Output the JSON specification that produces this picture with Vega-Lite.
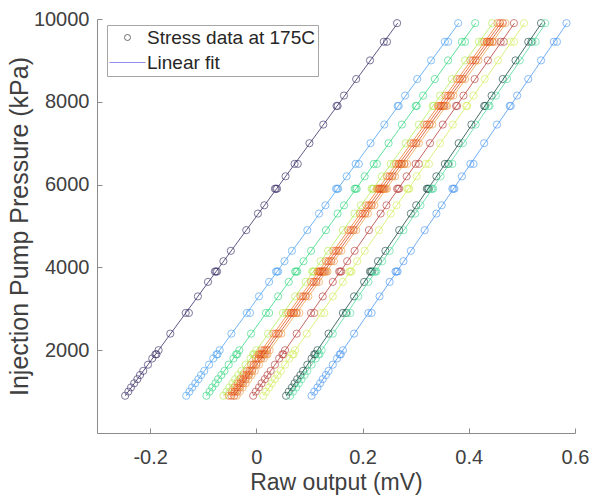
{
"$schema": "https://vega.github.io/schema/vega-lite/v6.json",
"width": 478, "height": 414,
"autosize": {"type": "none"},
"padding": {"left": 97, "top": 19, "right": 14, "bottom": 67},
"background": "white",
"config": {"view": {"stroke": null}, "font": "Liberation Sans"},
"data": {"values": [
{"s":"a","p":900,"v":-0.247},{"s":"a","p":1000,"v":-0.241},{"s":"a","p":1100,"v":-0.236},{"s":"a","p":1200,"v":-0.230},{"s":"a","p":1300,"v":-0.224},{"s":"a","p":1400,"v":-0.219},{"s":"a","p":1500,"v":-0.213},{"s":"a","p":1650,"v":-0.204},{"s":"a","p":1800,"v":-0.196},{"s":"a","p":1900,"v":-0.190},{"s":"a","p":2000,"v":-0.184},{"s":"a","p":2400,"v":-0.162},{"s":"a","p":2900,"v":-0.133},{"s":"a","p":3300,"v":-0.110},{"s":"a","p":3650,"v":-0.091},{"s":"a","p":3900,"v":-0.076},{"s":"a","p":4150,"v":-0.062},{"s":"a","p":4400,"v":-0.048},{"s":"a","p":4900,"v":-0.019},{"s":"a","p":5300,"v":0.003},{"s":"a","p":5500,"v":0.015},{"s":"a","p":5900,"v":0.037},{"s":"a","p":6200,"v":0.055},{"s":"a","p":6500,"v":0.072},{"s":"a","p":7000,"v":0.100},{"s":"a","p":7450,"v":0.126},{"s":"a","p":7900,"v":0.151},{"s":"a","p":8150,"v":0.165},{"s":"a","p":8550,"v":0.188},{"s":"a","p":9000,"v":0.214},{"s":"a","p":9450,"v":0.240},{"s":"a","p":9900,"v":0.265},
{"s":"a","p":1900,"v":-0.188},{"s":"a","p":2900,"v":-0.127},{"s":"a","p":3900,"v":-0.074},{"s":"a","p":3900,"v":-0.078},{"s":"a","p":5900,"v":0.039},{"s":"a","p":5900,"v":0.035},{"s":"a","p":6500,"v":0.078},{"s":"a","p":7900,"v":0.153},{"s":"a","p":9450,"v":0.246},
{"s":"b","p":900,"v":-0.132},{"s":"b","p":1000,"v":-0.126},{"s":"b","p":1100,"v":-0.121},{"s":"b","p":1200,"v":-0.115},{"s":"b","p":1300,"v":-0.109},{"s":"b","p":1400,"v":-0.104},{"s":"b","p":1500,"v":-0.098},{"s":"b","p":1650,"v":-0.089},{"s":"b","p":1800,"v":-0.081},{"s":"b","p":1900,"v":-0.075},{"s":"b","p":2000,"v":-0.069},{"s":"b","p":2400,"v":-0.047},{"s":"b","p":2900,"v":-0.018},{"s":"b","p":3300,"v":0.005},{"s":"b","p":3650,"v":0.024},{"s":"b","p":3900,"v":0.039},{"s":"b","p":4150,"v":0.053},{"s":"b","p":4400,"v":0.067},{"s":"b","p":4900,"v":0.096},{"s":"b","p":5300,"v":0.118},{"s":"b","p":5500,"v":0.130},{"s":"b","p":5900,"v":0.152},{"s":"b","p":6200,"v":0.170},{"s":"b","p":6500,"v":0.187},{"s":"b","p":7000,"v":0.215},{"s":"b","p":7450,"v":0.241},{"s":"b","p":7900,"v":0.266},{"s":"b","p":8150,"v":0.280},{"s":"b","p":8550,"v":0.303},{"s":"b","p":9000,"v":0.329},{"s":"b","p":9450,"v":0.355},{"s":"b","p":9900,"v":0.380},
{"s":"b","p":1900,"v":-0.073},{"s":"b","p":2900,"v":-0.012},{"s":"b","p":3900,"v":0.041},{"s":"b","p":3900,"v":0.037},{"s":"b","p":5900,"v":0.154},{"s":"b","p":5900,"v":0.150},{"s":"b","p":6500,"v":0.193},{"s":"b","p":7900,"v":0.268},{"s":"b","p":9450,"v":0.361},
{"s":"c","p":900,"v":-0.094},{"s":"c","p":1000,"v":-0.088},{"s":"c","p":1100,"v":-0.083},{"s":"c","p":1200,"v":-0.077},{"s":"c","p":1300,"v":-0.072},{"s":"c","p":1400,"v":-0.066},{"s":"c","p":1500,"v":-0.060},{"s":"c","p":1650,"v":-0.052},{"s":"c","p":1800,"v":-0.043},{"s":"c","p":1900,"v":-0.038},{"s":"c","p":2000,"v":-0.032},{"s":"c","p":2400,"v":-0.010},{"s":"c","p":2900,"v":0.018},{"s":"c","p":3300,"v":0.041},{"s":"c","p":3650,"v":0.061},{"s":"c","p":3900,"v":0.075},{"s":"c","p":4150,"v":0.089},{"s":"c","p":4400,"v":0.103},{"s":"c","p":4900,"v":0.131},{"s":"c","p":5300,"v":0.153},{"s":"c","p":5500,"v":0.165},{"s":"c","p":5900,"v":0.187},{"s":"c","p":6200,"v":0.204},{"s":"c","p":6500,"v":0.221},{"s":"c","p":7000,"v":0.249},{"s":"c","p":7450,"v":0.274},{"s":"c","p":7900,"v":0.300},{"s":"c","p":8150,"v":0.314},{"s":"c","p":8550,"v":0.336},{"s":"c","p":9000,"v":0.361},{"s":"c","p":9450,"v":0.387},{"s":"c","p":9900,"v":0.412},
{"s":"c","p":1900,"v":-0.036},{"s":"c","p":2900,"v":0.024},{"s":"c","p":3900,"v":0.077},{"s":"c","p":3900,"v":0.073},{"s":"c","p":5900,"v":0.189},{"s":"c","p":5900,"v":0.185},{"s":"c","p":6500,"v":0.227},{"s":"c","p":7900,"v":0.302},{"s":"c","p":9450,"v":0.393},
{"s":"d","p":900,"v":-0.062},{"s":"d","p":1000,"v":-0.056},{"s":"d","p":1100,"v":-0.051},{"s":"d","p":1200,"v":-0.045},{"s":"d","p":1300,"v":-0.040},{"s":"d","p":1400,"v":-0.034},{"s":"d","p":1500,"v":-0.028},{"s":"d","p":1650,"v":-0.020},{"s":"d","p":1800,"v":-0.011},{"s":"d","p":1900,"v":-0.006},{"s":"d","p":2000,"v":0.000},{"s":"d","p":2400,"v":0.022},{"s":"d","p":2900,"v":0.050},{"s":"d","p":3300,"v":0.073},{"s":"d","p":3650,"v":0.093},{"s":"d","p":3900,"v":0.107},{"s":"d","p":4150,"v":0.121},{"s":"d","p":4400,"v":0.135},{"s":"d","p":4900,"v":0.163},{"s":"d","p":5300,"v":0.185},{"s":"d","p":5500,"v":0.197},{"s":"d","p":5900,"v":0.219},{"s":"d","p":6200,"v":0.236},{"s":"d","p":6500,"v":0.253},{"s":"d","p":7000,"v":0.281},{"s":"d","p":7450,"v":0.306},{"s":"d","p":7900,"v":0.332},{"s":"d","p":8150,"v":0.346},{"s":"d","p":8550,"v":0.368},{"s":"d","p":9000,"v":0.393},{"s":"d","p":9450,"v":0.419},{"s":"d","p":9900,"v":0.444},
{"s":"d","p":1900,"v":-0.004},{"s":"d","p":2900,"v":0.056},{"s":"d","p":3900,"v":0.109},{"s":"d","p":3900,"v":0.105},{"s":"d","p":5900,"v":0.221},{"s":"d","p":5900,"v":0.217},{"s":"d","p":6500,"v":0.259},{"s":"d","p":7900,"v":0.334},{"s":"d","p":9450,"v":0.425},
{"s":"e","p":900,"v":-0.052},{"s":"e","p":1000,"v":-0.046},{"s":"e","p":1100,"v":-0.041},{"s":"e","p":1200,"v":-0.035},{"s":"e","p":1300,"v":-0.030},{"s":"e","p":1400,"v":-0.024},{"s":"e","p":1500,"v":-0.018},{"s":"e","p":1650,"v":-0.010},{"s":"e","p":1800,"v":-0.001},{"s":"e","p":1900,"v":0.004},{"s":"e","p":2000,"v":0.010},{"s":"e","p":2400,"v":0.032},{"s":"e","p":2900,"v":0.060},{"s":"e","p":3300,"v":0.083},{"s":"e","p":3650,"v":0.103},{"s":"e","p":3900,"v":0.117},{"s":"e","p":4150,"v":0.131},{"s":"e","p":4400,"v":0.145},{"s":"e","p":4900,"v":0.173},{"s":"e","p":5300,"v":0.195},{"s":"e","p":5500,"v":0.207},{"s":"e","p":5900,"v":0.229},{"s":"e","p":6200,"v":0.246},{"s":"e","p":6500,"v":0.263},{"s":"e","p":7000,"v":0.291},{"s":"e","p":7450,"v":0.316},{"s":"e","p":7900,"v":0.342},{"s":"e","p":8150,"v":0.356},{"s":"e","p":8550,"v":0.378},{"s":"e","p":9000,"v":0.403},{"s":"e","p":9450,"v":0.429},{"s":"e","p":9900,"v":0.454},
{"s":"e","p":1900,"v":0.006},{"s":"e","p":2900,"v":0.066},{"s":"e","p":3900,"v":0.119},{"s":"e","p":3900,"v":0.115},{"s":"e","p":5900,"v":0.231},{"s":"e","p":5900,"v":0.227},{"s":"e","p":6500,"v":0.269},{"s":"e","p":7900,"v":0.344},{"s":"e","p":9450,"v":0.435},
{"s":"f","p":900,"v":-0.047},{"s":"f","p":1000,"v":-0.041},{"s":"f","p":1100,"v":-0.036},{"s":"f","p":1200,"v":-0.030},{"s":"f","p":1300,"v":-0.025},{"s":"f","p":1400,"v":-0.019},{"s":"f","p":1500,"v":-0.013},{"s":"f","p":1650,"v":-0.005},{"s":"f","p":1800,"v":0.004},{"s":"f","p":1900,"v":0.009},{"s":"f","p":2000,"v":0.015},{"s":"f","p":2400,"v":0.037},{"s":"f","p":2900,"v":0.065},{"s":"f","p":3300,"v":0.088},{"s":"f","p":3650,"v":0.108},{"s":"f","p":3900,"v":0.122},{"s":"f","p":4150,"v":0.136},{"s":"f","p":4400,"v":0.150},{"s":"f","p":4900,"v":0.178},{"s":"f","p":5300,"v":0.200},{"s":"f","p":5500,"v":0.212},{"s":"f","p":5900,"v":0.234},{"s":"f","p":6200,"v":0.251},{"s":"f","p":6500,"v":0.268},{"s":"f","p":7000,"v":0.296},{"s":"f","p":7450,"v":0.321},{"s":"f","p":7900,"v":0.347},{"s":"f","p":8150,"v":0.361},{"s":"f","p":8550,"v":0.383},{"s":"f","p":9000,"v":0.408},{"s":"f","p":9450,"v":0.434},{"s":"f","p":9900,"v":0.459},
{"s":"f","p":1900,"v":0.011},{"s":"f","p":2900,"v":0.071},{"s":"f","p":3900,"v":0.124},{"s":"f","p":3900,"v":0.120},{"s":"f","p":5900,"v":0.236},{"s":"f","p":5900,"v":0.232},{"s":"f","p":6500,"v":0.274},{"s":"f","p":7900,"v":0.349},{"s":"f","p":9450,"v":0.440},
{"s":"g","p":900,"v":-0.042},{"s":"g","p":1000,"v":-0.036},{"s":"g","p":1100,"v":-0.031},{"s":"g","p":1200,"v":-0.025},{"s":"g","p":1300,"v":-0.020},{"s":"g","p":1400,"v":-0.014},{"s":"g","p":1500,"v":-0.008},{"s":"g","p":1650,"v":0.000},{"s":"g","p":1800,"v":0.009},{"s":"g","p":1900,"v":0.014},{"s":"g","p":2000,"v":0.020},{"s":"g","p":2400,"v":0.042},{"s":"g","p":2900,"v":0.070},{"s":"g","p":3300,"v":0.093},{"s":"g","p":3650,"v":0.113},{"s":"g","p":3900,"v":0.127},{"s":"g","p":4150,"v":0.141},{"s":"g","p":4400,"v":0.155},{"s":"g","p":4900,"v":0.183},{"s":"g","p":5300,"v":0.205},{"s":"g","p":5500,"v":0.217},{"s":"g","p":5900,"v":0.239},{"s":"g","p":6200,"v":0.256},{"s":"g","p":6500,"v":0.273},{"s":"g","p":7000,"v":0.301},{"s":"g","p":7450,"v":0.326},{"s":"g","p":7900,"v":0.352},{"s":"g","p":8150,"v":0.366},{"s":"g","p":8550,"v":0.388},{"s":"g","p":9000,"v":0.413},{"s":"g","p":9450,"v":0.439},{"s":"g","p":9900,"v":0.464},
{"s":"g","p":1900,"v":0.016},{"s":"g","p":2900,"v":0.076},{"s":"g","p":3900,"v":0.129},{"s":"g","p":3900,"v":0.125},{"s":"g","p":5900,"v":0.241},{"s":"g","p":5900,"v":0.237},{"s":"g","p":6500,"v":0.279},{"s":"g","p":7900,"v":0.354},{"s":"g","p":9450,"v":0.445},
{"s":"h","p":900,"v":-0.037},{"s":"h","p":1000,"v":-0.031},{"s":"h","p":1100,"v":-0.026},{"s":"h","p":1200,"v":-0.020},{"s":"h","p":1300,"v":-0.015},{"s":"h","p":1400,"v":-0.009},{"s":"h","p":1500,"v":-0.003},{"s":"h","p":1650,"v":0.005},{"s":"h","p":1800,"v":0.014},{"s":"h","p":1900,"v":0.019},{"s":"h","p":2000,"v":0.025},{"s":"h","p":2400,"v":0.047},{"s":"h","p":2900,"v":0.075},{"s":"h","p":3300,"v":0.098},{"s":"h","p":3650,"v":0.118},{"s":"h","p":3900,"v":0.132},{"s":"h","p":4150,"v":0.146},{"s":"h","p":4400,"v":0.160},{"s":"h","p":4900,"v":0.188},{"s":"h","p":5300,"v":0.210},{"s":"h","p":5500,"v":0.222},{"s":"h","p":5900,"v":0.244},{"s":"h","p":6200,"v":0.261},{"s":"h","p":6500,"v":0.278},{"s":"h","p":7000,"v":0.306},{"s":"h","p":7450,"v":0.331},{"s":"h","p":7900,"v":0.357},{"s":"h","p":8150,"v":0.371},{"s":"h","p":8550,"v":0.393},{"s":"h","p":9000,"v":0.418},{"s":"h","p":9450,"v":0.444},{"s":"h","p":9900,"v":0.469},
{"s":"h","p":1900,"v":0.021},{"s":"h","p":2900,"v":0.081},{"s":"h","p":3900,"v":0.134},{"s":"h","p":3900,"v":0.130},{"s":"h","p":5900,"v":0.246},{"s":"h","p":5900,"v":0.242},{"s":"h","p":6500,"v":0.284},{"s":"h","p":7900,"v":0.359},{"s":"h","p":9450,"v":0.450},
{"s":"i","p":900,"v":-0.006},{"s":"i","p":1000,"v":-0.001},{"s":"i","p":1100,"v":0.005},{"s":"i","p":1200,"v":0.010},{"s":"i","p":1300,"v":0.016},{"s":"i","p":1400,"v":0.021},{"s":"i","p":1500,"v":0.027},{"s":"i","p":1650,"v":0.035},{"s":"i","p":1800,"v":0.043},{"s":"i","p":1900,"v":0.049},{"s":"i","p":2000,"v":0.054},{"s":"i","p":2400,"v":0.076},{"s":"i","p":2900,"v":0.103},{"s":"i","p":3300,"v":0.125},{"s":"i","p":3650,"v":0.144},{"s":"i","p":3900,"v":0.158},{"s":"i","p":4150,"v":0.171},{"s":"i","p":4400,"v":0.185},{"s":"i","p":4900,"v":0.212},{"s":"i","p":5300,"v":0.234},{"s":"i","p":5500,"v":0.245},{"s":"i","p":5900,"v":0.267},{"s":"i","p":6200,"v":0.283},{"s":"i","p":6500,"v":0.300},{"s":"i","p":7000,"v":0.327},{"s":"i","p":7450,"v":0.351},{"s":"i","p":7900,"v":0.376},{"s":"i","p":8150,"v":0.390},{"s":"i","p":8550,"v":0.411},{"s":"i","p":9000,"v":0.436},{"s":"i","p":9450,"v":0.460},{"s":"i","p":9900,"v":0.485},
{"s":"i","p":1900,"v":0.051},{"s":"i","p":2900,"v":0.109},{"s":"i","p":3900,"v":0.160},{"s":"i","p":3900,"v":0.156},{"s":"i","p":5900,"v":0.269},{"s":"i","p":5900,"v":0.265},{"s":"i","p":6500,"v":0.306},{"s":"i","p":7900,"v":0.378},{"s":"i","p":9450,"v":0.466},
{"s":"j","p":900,"v":0.013},{"s":"j","p":1000,"v":0.018},{"s":"j","p":1100,"v":0.024},{"s":"j","p":1200,"v":0.029},{"s":"j","p":1300,"v":0.035},{"s":"j","p":1400,"v":0.040},{"s":"j","p":1500,"v":0.046},{"s":"j","p":1650,"v":0.054},{"s":"j","p":1800,"v":0.062},{"s":"j","p":1900,"v":0.068},{"s":"j","p":2000,"v":0.073},{"s":"j","p":2400,"v":0.095},{"s":"j","p":2900,"v":0.122},{"s":"j","p":3300,"v":0.144},{"s":"j","p":3650,"v":0.163},{"s":"j","p":3900,"v":0.177},{"s":"j","p":4150,"v":0.190},{"s":"j","p":4400,"v":0.204},{"s":"j","p":4900,"v":0.231},{"s":"j","p":5300,"v":0.253},{"s":"j","p":5500,"v":0.264},{"s":"j","p":5900,"v":0.286},{"s":"j","p":6200,"v":0.302},{"s":"j","p":6500,"v":0.319},{"s":"j","p":7000,"v":0.346},{"s":"j","p":7450,"v":0.370},{"s":"j","p":7900,"v":0.395},{"s":"j","p":8150,"v":0.409},{"s":"j","p":8550,"v":0.430},{"s":"j","p":9000,"v":0.455},{"s":"j","p":9450,"v":0.479},{"s":"j","p":9900,"v":0.504},
{"s":"j","p":1900,"v":0.070},{"s":"j","p":2900,"v":0.128},{"s":"j","p":3900,"v":0.179},{"s":"j","p":3900,"v":0.175},{"s":"j","p":5900,"v":0.288},{"s":"j","p":5900,"v":0.284},{"s":"j","p":6500,"v":0.325},{"s":"j","p":7900,"v":0.397},{"s":"j","p":9450,"v":0.485},
{"s":"k","p":900,"v":0.056},{"s":"k","p":1000,"v":0.061},{"s":"k","p":1100,"v":0.067},{"s":"k","p":1200,"v":0.072},{"s":"k","p":1300,"v":0.077},{"s":"k","p":1400,"v":0.083},{"s":"k","p":1500,"v":0.088},{"s":"k","p":1650,"v":0.096},{"s":"k","p":1800,"v":0.104},{"s":"k","p":1900,"v":0.109},{"s":"k","p":2000,"v":0.115},{"s":"k","p":2400,"v":0.136},{"s":"k","p":2900,"v":0.163},{"s":"k","p":3300,"v":0.184},{"s":"k","p":3650,"v":0.203},{"s":"k","p":3900,"v":0.216},{"s":"k","p":4150,"v":0.229},{"s":"k","p":4400,"v":0.243},{"s":"k","p":4900,"v":0.269},{"s":"k","p":5300,"v":0.291},{"s":"k","p":5500,"v":0.301},{"s":"k","p":5900,"v":0.323},{"s":"k","p":6200,"v":0.339},{"s":"k","p":6500,"v":0.355},{"s":"k","p":7000,"v":0.381},{"s":"k","p":7450,"v":0.405},{"s":"k","p":7900,"v":0.429},{"s":"k","p":8150,"v":0.443},{"s":"k","p":8550,"v":0.464},{"s":"k","p":9000,"v":0.488},{"s":"k","p":9450,"v":0.512},{"s":"k","p":9900,"v":0.536},
{"s":"k","p":1900,"v":0.111},{"s":"k","p":2900,"v":0.169},{"s":"k","p":3900,"v":0.218},{"s":"k","p":3900,"v":0.214},{"s":"k","p":5900,"v":0.325},{"s":"k","p":5900,"v":0.321},{"s":"k","p":6500,"v":0.361},{"s":"k","p":7900,"v":0.431},{"s":"k","p":9450,"v":0.518},
{"s":"l","p":900,"v":0.064},{"s":"l","p":1000,"v":0.069},{"s":"l","p":1100,"v":0.075},{"s":"l","p":1200,"v":0.080},{"s":"l","p":1300,"v":0.085},{"s":"l","p":1400,"v":0.091},{"s":"l","p":1500,"v":0.096},{"s":"l","p":1650,"v":0.104},{"s":"l","p":1800,"v":0.112},{"s":"l","p":1900,"v":0.117},{"s":"l","p":2000,"v":0.123},{"s":"l","p":2400,"v":0.144},{"s":"l","p":2900,"v":0.171},{"s":"l","p":3300,"v":0.192},{"s":"l","p":3650,"v":0.211},{"s":"l","p":3900,"v":0.224},{"s":"l","p":4150,"v":0.237},{"s":"l","p":4400,"v":0.251},{"s":"l","p":4900,"v":0.277},{"s":"l","p":5300,"v":0.299},{"s":"l","p":5500,"v":0.309},{"s":"l","p":5900,"v":0.331},{"s":"l","p":6200,"v":0.347},{"s":"l","p":6500,"v":0.363},{"s":"l","p":7000,"v":0.389},{"s":"l","p":7450,"v":0.413},{"s":"l","p":7900,"v":0.437},{"s":"l","p":8150,"v":0.451},{"s":"l","p":8550,"v":0.472},{"s":"l","p":9000,"v":0.496},{"s":"l","p":9450,"v":0.520},{"s":"l","p":9900,"v":0.544},
{"s":"l","p":1900,"v":0.119},{"s":"l","p":2900,"v":0.177},{"s":"l","p":3900,"v":0.226},{"s":"l","p":3900,"v":0.222},{"s":"l","p":5900,"v":0.333},{"s":"l","p":5900,"v":0.329},{"s":"l","p":6500,"v":0.369},{"s":"l","p":7900,"v":0.439},{"s":"l","p":9450,"v":0.526},
{"s":"m","p":900,"v":0.104},{"s":"m","p":1000,"v":0.109},{"s":"m","p":1100,"v":0.115},{"s":"m","p":1200,"v":0.120},{"s":"m","p":1300,"v":0.125},{"s":"m","p":1400,"v":0.131},{"s":"m","p":1500,"v":0.136},{"s":"m","p":1650,"v":0.144},{"s":"m","p":1800,"v":0.152},{"s":"m","p":1900,"v":0.157},{"s":"m","p":2000,"v":0.163},{"s":"m","p":2400,"v":0.184},{"s":"m","p":2900,"v":0.211},{"s":"m","p":3300,"v":0.232},{"s":"m","p":3650,"v":0.251},{"s":"m","p":3900,"v":0.264},{"s":"m","p":4150,"v":0.277},{"s":"m","p":4400,"v":0.291},{"s":"m","p":4900,"v":0.317},{"s":"m","p":5300,"v":0.339},{"s":"m","p":5500,"v":0.349},{"s":"m","p":5900,"v":0.371},{"s":"m","p":6200,"v":0.387},{"s":"m","p":6500,"v":0.403},{"s":"m","p":7000,"v":0.429},{"s":"m","p":7450,"v":0.453},{"s":"m","p":7900,"v":0.477},{"s":"m","p":8150,"v":0.491},{"s":"m","p":8550,"v":0.512},{"s":"m","p":9000,"v":0.536},{"s":"m","p":9450,"v":0.560},{"s":"m","p":9900,"v":0.584},
{"s":"m","p":1900,"v":0.159},{"s":"m","p":2900,"v":0.217},{"s":"m","p":3900,"v":0.266},{"s":"m","p":3900,"v":0.262},{"s":"m","p":5900,"v":0.373},{"s":"m","p":5900,"v":0.369},{"s":"m","p":6500,"v":0.409},{"s":"m","p":7900,"v":0.479},{"s":"m","p":9450,"v":0.566}
]},
"encoding": {
  "x": {"field": "v", "type": "quantitative", "scale": {"domain": [-0.3, 0.6], "nice": false, "zero": false},
    "axis": {"values": [-0.2, 0, 0.2, 0.4, 0.6], "labelExpr": "'' + datum.value", "title": "Raw output (mV)", "grid": false,
      "domainColor": "#8c8c8c", "tickColor": "#8c8c8c", "tickSize": -5, "labelPadding": 19, "labelFontSize": 20, "labelColor": "#404040",
      "titleFontSize": 23, "titleFontWeight": "normal", "titleColor": "#404040", "titlePadding": 4, "labelFlush": false}},
  "y": {"field": "p", "type": "quantitative", "scale": {"domain": [0, 10000], "nice": false},
    "axis": {"values": [2000, 4000, 6000, 8000, 10000], "format": "d", "title": "Injection Pump Pressure (kPa)", "grid": false,
      "domainColor": "#8c8c8c", "tickColor": "#8c8c8c", "tickSize": -5, "labelPadding": 13, "labelFontSize": 20, "labelColor": "#404040",
      "titleFontSize": 25, "titleFontWeight": "normal", "titleColor": "#404040", "titlePadding": 1, "labelFlush": false}},
  "color": {"field": "s", "type": "nominal", "legend": null,
    "scale": {"domain": ["a","b","c","d","e","f","g","h","i","j","k","l","m"],
      "range": ["#3a2e66","#4ea2f2","#34d880","#b4ee58","#f47a2a","#e8561e","#d64a1e","#f0a048","#b8403a","#d6ee5e","#1e4844","#52dca0","#4c98f2"]}}
},
"layer": [
  {"mark": {"type": "point", "shape": "circle", "filled": false, "size": 52, "opacity": 0.65},
   "encoding": {
     "strokeWidth": {"datum": "Stress data at 175C", "type": "ordinal",
       "scale": {"domain": ["Stress data at 175C", "Linear fit"], "range": [1, 1]},
       "legend": {"title": null, "orient": "none", "legendX": 10, "legendY": 6,
         "strokeColor": "#a6a6a6", "fillColor": "#ffffff", "padding": 3,
         "labelFont": "Liberation Sans", "labelFontSize": 19, "labelColor": "#262626", "labelLimit": 0,
         "symbolSize": 400, "symbolOffset": 8, "labelOffset": 10, "rowPadding": 5,
         "encoding": {"symbols": {
           "shape": {"value": {"expr": "datum.value === 'Linear fit' ? 'stroke' : 'circle'"}},
           "size": {"value": {"expr": "datum.value === 'Linear fit' ? 1300 : 36"}},
           "stroke": {"value": {"expr": "datum.value === 'Linear fit' ? '#8e8ee8' : '#6a6a6a'"}},
           "fill": {"value": "transparent"},
           "strokeWidth": {"value": 1},
           "opacity": {"value": 1}
         }}}}
   }},
  {"transform": [{"regression": "v", "on": "p", "groupby": ["s"]}],
   "mark": {"type": "line", "opacity": 0.8},
   "encoding": {
     "strokeWidth": {"datum": "Linear fit", "type": "ordinal",
       "legend": {"title": null, "orient": "none", "legendX": 10, "legendY": 6,
         "strokeColor": "#a6a6a6", "fillColor": "#ffffff", "padding": 3,
         "labelFont": "Liberation Sans", "labelFontSize": 19, "labelColor": "#262626", "labelLimit": 0,
         "symbolSize": 400, "symbolOffset": 8, "labelOffset": 10, "rowPadding": 5,
         "encoding": {"symbols": {
           "shape": {"value": {"expr": "datum.value === 'Linear fit' ? 'stroke' : 'circle'"}},
           "size": {"value": {"expr": "datum.value === 'Linear fit' ? 1300 : 36"}},
           "stroke": {"value": {"expr": "datum.value === 'Linear fit' ? '#8e8ee8' : '#6a6a6a'"}},
           "fill": {"value": "transparent"},
           "strokeWidth": {"value": 1},
           "opacity": {"value": 1}
         }}}}
   }}
]
}
